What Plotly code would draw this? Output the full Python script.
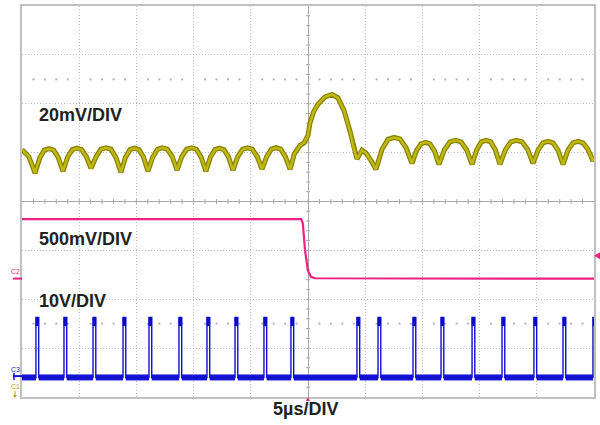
import plotly.graph_objects as go

# ---------------- data (time in µs, amplitude in screen divisions) ----------------
c1_t = [-25, -24.4, -23.86,
        -23.45, -23.05, -22.64, -22.23, -21.83, -21.42,
        -21.01, -20.61, -20.2, -19.79, -19.38, -18.97,
        -18.53, -18.1, -17.66, -17.22, -16.79, -16.35,
        -15.96, -15.56, -15.17, -14.78, -14.38, -13.99,
        -13.57, -13.14, -12.72, -12.3, -11.87, -11.45,
        -11.03, -10.61, -10.19, -9.77, -9.34, -8.92,
        -8.53, -8.13, -7.74, -7.35, -6.95, -6.56,
        -6.14, -5.71, -5.29, -4.87, -4.44, -4.02,
        -3.61, -3.2, -2.8, -2.39, -1.98, -1.57,
        -1.2, -0.7, -0.35, 0.0, 0.17, 0.5, 0.87, 1.49, 2.1, 2.62, 3.15, 3.67, 4.02, 4.28,
        4.72, 5.07, 5.51, 5.94,
        6.47, 6.99, 7.52, 8.04, 8.57, 9.09,
        9.48, 9.88, 10.27, 10.66, 11.06, 11.45,
        11.93, 12.41, 12.9, 13.38, 13.86, 14.34,
        14.75, 15.15, 15.56, 15.97, 16.37, 16.78,
        17.26, 17.74, 18.22, 18.71, 19.19, 19.67,
        20.11, 20.54, 20.98, 21.42, 21.85, 22.29,
        22.73, 23.16, 23.6, 24.04, 24.47, 24.91,
        25.0]
c1_v = [1.06, 0.92, 0.58,
        0.89, 1.05, 1.08, 1.05, 0.90, 0.62,
        0.91, 1.06, 1.09, 1.06, 0.92, 0.68,
        0.91, 1.07, 1.10, 1.07, 0.90, 0.60,
        0.90, 1.06, 1.09, 1.06, 0.91, 0.62,
        0.91, 1.07, 1.10, 1.07, 0.92, 0.64,
        0.92, 1.07, 1.10, 1.07, 0.91, 0.62,
        0.91, 1.06, 1.09, 1.06, 0.91, 0.64,
        0.92, 1.07, 1.10, 1.07, 0.92, 0.66,
        0.92, 1.07, 1.10, 1.07, 0.92, 0.66,
        0.97, 1.15, 1.20, 1.35, 1.60, 1.84, 1.99, 2.14, 2.19, 2.12, 1.86, 1.44, 1.07, 0.87,
        1.05, 0.99, 0.84, 0.66,
        1.07, 1.27, 1.31, 1.28, 1.10, 0.78,
        1.04, 1.18, 1.21, 1.18, 1.03, 0.76,
        1.06, 1.22, 1.25, 1.22, 1.06, 0.76,
        1.06, 1.22, 1.25, 1.22, 1.06, 0.76,
        1.06, 1.22, 1.25, 1.22, 1.07, 0.78,
        1.05, 1.20, 1.23, 1.20, 1.05, 0.76,
        1.05, 1.20, 1.23, 1.20, 1.07, 0.83,
        0.90]

c2_t = [-25, -0.6, -0.45, -0.26, 0.0, 0.26, 0.61, 1.5, 25]
c2_v = [-0.36, -0.36, -0.45, -1.0, -1.42, -1.54, -1.57, -1.57, -1.58]

c3_pulse_t = [-23.78, -21.33, -18.79, -16.17, -13.90, -11.28, -8.83, -6.38, -3.85, -1.49,
              4.28, 6.12, 9.18, 11.63, 14.34, 16.96, 19.75, 22.29, 24.91]
c3_pulse_width = 0.24
c3_base = -3.60
c3_top = -2.37

labels = ["20mV/DIV", "500mV/DIV", "10V/DIV"]
label_y = [1.76, -0.76, -2.04]
time_label = "5µs/DIV"

# ---------------- figure ----------------
fig = go.Figure()

GRID = "#bdbdbd"
DOT = "1px,2px"

# dotted rows at +/-2.5 div
dots_x, dots_y = [], []
for yy in (2.5, -2.5):
    for k in range(-24, 25):
        if k % 5 != 0:
            dots_x.append(k)
            dots_y.append(yy)
fig.add_trace(go.Scatter(x=dots_x, y=dots_y, mode="markers",
                         marker=dict(size=2, color="#b4b4b4", symbol="square"),
                         hoverinfo="skip", showlegend=False))

# center-line ticks
tx, ty = [], []
for k in range(-24, 25):
    tx += [k, k, None]
    ty += [-0.05, 0.05, None]
for k in range(-19, 20):
    v = k * 0.2
    tx += [-0.17, 0.17, None]
    ty += [v, v, None]
fig.add_trace(go.Scatter(x=tx, y=ty, mode="lines",
                         line=dict(color="#a8a8a8", width=1),
                         hoverinfo="skip", showlegend=False))

# C1 (yellow)
fig.add_trace(go.Scatter(x=c1_t, y=c1_v, mode="lines",
                         line=dict(color="#878300", width=5),
                         hoverinfo="skip", showlegend=False))
fig.add_trace(go.Scatter(x=c1_t, y=c1_v, mode="lines",
                         line=dict(color="#c0b814", width=2.5),
                         hoverinfo="skip", showlegend=False))

# C2 (pink)
fig.add_trace(go.Scatter(x=c2_t, y=c2_v, mode="lines",
                         line=dict(color="#ec2184", width=2.2),
                         hoverinfo="skip", showlegend=False))

# C3 (blue) baseline band
bx, by = [-25], [c3_base]
for t0 in c3_pulse_t:
    bx += [t0, None, t0 + c3_pulse_width]
    by += [c3_base, None, c3_base]
bx.append(25)
by.append(c3_base)
fig.add_trace(go.Scatter(x=bx, y=by, mode="lines",
                         line=dict(color="#1414d8", width=6),
                         hoverinfo="skip", showlegend=False))
# pulses
px, py = [-25], [c3_base]
for t0 in c3_pulse_t:
    px += [t0, t0, t0 + c3_pulse_width, t0 + c3_pulse_width]
    py += [c3_base, c3_top, c3_top, c3_base]
px.append(25)
py.append(c3_base)
fig.add_trace(go.Scatter(x=px, y=py, mode="lines",
                         line=dict(color="#1010cc", width=1.4),
                         hoverinfo="skip", showlegend=False))
# pulse top blocks
kx, ky = [], []
for t0 in c3_pulse_t:
    m = t0 + c3_pulse_width / 2
    kx += [m, m, None]
    ky += [c3_top, c3_top - 0.18, None]
fig.add_trace(go.Scatter(x=kx, y=ky, mode="lines",
                         line=dict(color="#0a0ac8", width=3.5),
                         hoverinfo="skip", showlegend=False))


def pxp(xp):
    return (xp - 22) / 572.0


def pyp(yp):
    return (397 - yp) / 393.0


annotations = []
for txt, yy in zip(labels, label_y):
    annotations.append(dict(x=-23.7, y=yy, xref="x", yref="y", text="<b>%s</b>" % txt,
                            showarrow=False, xanchor="left", yanchor="middle",
                            font=dict(family="Liberation Sans, Arial", size=18, color="#222222")))
annotations.append(dict(x=pxp(305.5), y=pyp(409), xref="paper", yref="paper",
                        text="<b>%s</b>" % time_label,
                        showarrow=False, xanchor="center", yanchor="middle",
                        font=dict(family="Liberation Sans, Arial", size=18, color="#222222")))

for txt, color, xp, yp in [("C2", "#ec2184", 15, 271), ("C3", "#1414d8", 15, 369),
                           ("C1", "#b0a800", 15, 386)]:
    annotations.append(dict(x=pxp(xp), y=pyp(yp), xref="paper", yref="paper", text=txt,
                            showarrow=False, xanchor="center", yanchor="middle", borderpad=0,
                            font=dict(family="Liberation Sans, Arial", size=7, color=color)))

shapes = [
    dict(type="line", xref="paper", yref="paper", x0=pxp(13), x1=pxp(22), y0=pyp(278), y1=pyp(278),
         line=dict(color="#ec2184", width=2)),
    dict(type="line", xref="paper", yref="paper", x0=pxp(13), x1=pxp(22), y0=pyp(376), y1=pyp(376),
         line=dict(color="#1414d8", width=2)),
    dict(type="line", xref="paper", yref="paper", x0=pxp(14), x1=pxp(14), y0=pyp(373), y1=pyp(380),
         line=dict(color="#1414d8", width=1.5)),
    # C1 offset arrow (pointing down)
    dict(type="line", xref="paper", yref="paper", x0=pxp(15), x1=pxp(15), y0=pyp(391), y1=pyp(397),
         line=dict(color="#b0a800", width=1)),
    dict(type="path", xref="paper", yref="paper",
         path="M %f,%f L %f,%f L %f,%f Z" % (pxp(15), pyp(398), pxp(13), pyp(395), pxp(17), pyp(395)),
         fillcolor="#b0a800", line=dict(color="#b0a800", width=0)),
    # trigger level marker (right)
    dict(type="path", xref="paper", yref="paper",
         path="M %f,%f L %f,%f L %f,%f Z" % (pxp(594), pyp(255), pxp(600), pyp(251.5), pxp(600), pyp(258.5)),
         fillcolor="#ec2184", line=dict(color="#ec2184", width=0)),
    # trigger position marker (bottom)
    dict(type="path", xref="paper", yref="paper",
         path="M %f,%f L %f,%f L %f,%f Z" % (pxp(308), pyp(397), pxp(306), pyp(401), pxp(310), pyp(401)),
         fillcolor="#ec2184", line=dict(color="#ec2184", width=0)),
]

fig.update_layout(
    width=600, height=425,
    margin=dict(l=22, r=6, t=4, b=28),
    paper_bgcolor="white", plot_bgcolor="white",
    annotations=annotations, shapes=shapes,
    xaxis=dict(range=[-25, 25], dtick=5, tick0=0, showgrid=True, gridcolor=GRID, griddash=DOT,
               gridwidth=1, zeroline=True, zerolinecolor="#a8a8a8", zerolinewidth=1,
               showline=True, mirror=True, linecolor="#c0c0c0", linewidth=1.5,
               showticklabels=False, ticks="", fixedrange=True),
    yaxis=dict(range=[-4, 4], dtick=1, tick0=0, showgrid=True, gridcolor=GRID, griddash=DOT,
               gridwidth=1, zeroline=True, zerolinecolor="#a8a8a8", zerolinewidth=1,
               showline=True, mirror=True, linecolor="#c0c0c0", linewidth=1.5,
               showticklabels=False, ticks="", fixedrange=True),
)

fig.write_html("out.html", config={"displayModeBar": False},
               post_script="document.body.style.margin='0';")
